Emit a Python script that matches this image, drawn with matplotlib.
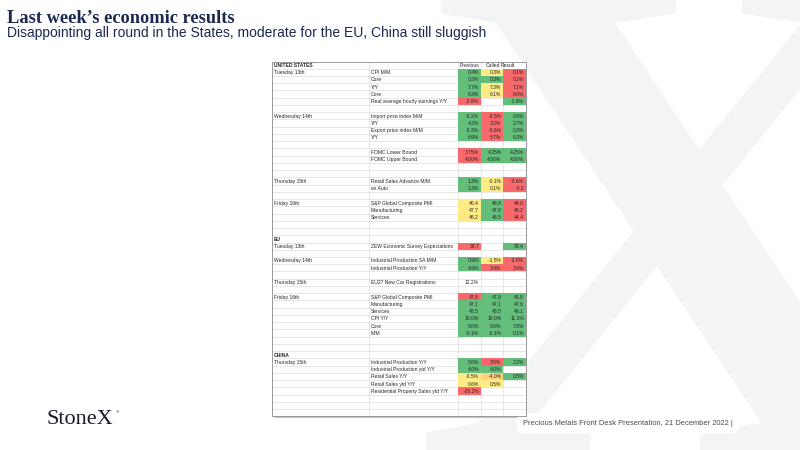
import matplotlib.pyplot as plt
from matplotlib.patches import Rectangle, PathPatch
from matplotlib.textpath import TextPath
from matplotlib.font_manager import FontProperties
from matplotlib.transforms import Affine2D

# ---------------------------------------------------------------------------
# table data (one entry per spreadsheet row)
# ---------------------------------------------------------------------------
section_names = ['UNITED STATES', 'EU', 'CHINA']

row_dates = ['UNITED STATES', 'Tuesday 13th', '', '', '', '', '',
             'Wednesday 14th', '', '', '', '', '', '', '', '',
             'Thursday 15th', '', '', 'Friday 16th', '', '', '', '',
             'EU', 'Tuesday 13th', '', 'Wednesday 14th', '', '',
             'Thursday 15th', '', 'Friday 16th', '', '', '', '', '', '', '',
             'CHINA', 'Thursday 15th', '', '', '', '', '', '', '']

row_labels = ['', 'CPI M/M', 'Core', 'Y/Y', 'Core', 'Real average hourly earnings Y/Y', '',
              'Import price index M/M', 'Y/Y', 'Export price index M/M', 'Y/Y', '',
              'FOMC Lower Bound', 'FOMC Upper Bound', '', '',
              'Retail Sales Advance M/M', 'ex Auto', '',
              'S&P Global Composite PMI', 'Manufacturing', 'Services', '', '',
              '', 'ZEW Economic Survey Expectations', '',
              'Industrial Production SA M/M', 'Industrial Production Y/Y', '',
              'EU27 New Car Registrations', '',
              'S&P Global Composite PMI', 'Manufacturing', 'Services', 'CPI Y/Y', 'Core', 'M/M', '', '',
              '', 'Industrial Production Y/Y', 'Industrial Production ytd Y/Y', 'Retail Sales Y/Y',
              'Retail Sales ytd Y/Y', 'Residential Property Sales ytd Y/Y', '', '', '']

prev_vals = ['Previous', '0.4%', '0.3%', '7.7%', '6.3%', '-2.8%', '',
             '-0.2%', '4.2%', '-0.3%', '6.9%', '',
             '3.75%', '4.00%', '', '',
             '1.3%', '1.3%', '',
             '46.4', '47.7', '46.2', '', '',
             '', '38.7', '',
             '0.9%', '4.9%', '',
             '12.2%', '',
             '47.8', '47.1', '48.5', '10.0%', '5.0%', '-0.1%', '', '',
             '', '5.0%', '4.0%', '-0.5%', '0.6%', '-28.2%', '', '', '']

called_vals = ['Called', '0.3%', '0.3%', '7.3%', '6.1%', '', '',
               '-0.5%', '3.2%', '-0.6%', '5.7%', '',
               '4.25%', '4.50%', '', '',
               '-0.1%', '0.1%', '',
               '46.8', '47.8', '46.5', '', '',
               '', '', '',
               '-1.5%', '3.4%', '',
               '', '',
               '47.9', '47.1', '48.5', '10.0%', '5.0%', '-0.1%', '', '',
               '', '3.5%', '4.0%', '-4.0%', '0.5%', '', '', '', '']

result_vals = ['Result', '0.1%', '0.2%', '7.1%', '6.0%', '-1.9%', '',
               '0.6%', '2.7%', '0.3%', '6.3%', '',
               '4.25%', '4.50%', '', '',
               '-0.6%', '-0.2', '',
               '44.6', '46.2', '44.4', '', '',
               '', '39.4', '',
               '-2.0%', '3.4%', '',
               '', '',
               '48.8', '47.8', '49.1', '11.1%', '7.8%', '0.1%', '', '',
               '', '2.2%', '', '0.5%', '', '', '', '', '']

# cell fills: g = better, r = worse, y / o = neutral, - = none
prev_fill = "-ggggr-gggg-rr--gg-yyy---r-gg---rggggg---ggyyr---"
called_fill = "-ygyy--rrrr-gg--yy-ggg-----yr---gggggg---rgoy----"
result_fill = "-rrrrg-gggg-gg--rr-rrr---g-rr---gggggg---g-g-----"

fill_colors = {'g': '#63be7b', 'r': '#f8696b', 'y': '#ffeb84', 'o': '#fdd17f'}

navy = '#1c2850'
cell_font = 'Liberation Sans'

fig = plt.figure(figsize=(8, 4.5), dpi=100)
ax = fig.add_axes([0, 0, 1, 1])
ax.set_xlim(0, 800)
ax.set_ylim(450, 0)
ax.axis('off')

# big watermark "X" in the background
tp = TextPath((0, 0), 'X', size=100, prop=FontProperties(family='Liberation Serif', weight='bold'))
v = tp.vertices
gx0, gx1 = v[:, 0].min(), v[:, 0].max()
gy0, gy1 = v[:, 1].min(), v[:, 1].max()
bx0, bx1, by0, by1 = 412, 935, -12, 458
tr = Affine2D().translate(-gx0, -gy1).scale((bx1 - bx0) / (gx1 - gx0), -(by1 - by0) / (gy1 - gy0)).translate(bx0, by0)
ax.add_patch(PathPatch(tr.transform_path(tp), fc='#f3f4f6', ec='none', zorder=0))

# titles
ax.text(7, 23.3, 'Last week\u2019s economic results', family='Liberation Serif', weight='bold',
        fontsize=13.2, color=navy, va='baseline')
ax.text(7, 37.3, 'Disappointing all round in the States, moderate for the EU, China still sluggish',
        family='Liberation Sans', fontsize=10.0, color=navy, va='baseline')

# ---------------------------------------------------------------------------
# the table
# ---------------------------------------------------------------------------
col_edges = [272, 369, 458, 480.5, 503, 525.5]
ty0 = 61.5
rh = 7.24
n = len(row_labels)
ty1 = ty0 + n * rh
tx0, tx1 = col_edges[0], col_edges[-1]

ax.add_patch(Rectangle((tx0 + 1.6, ty0 + 1.6), tx1 - tx0, ty1 - ty0, fc='#c4c4c4', ec='none', zorder=1))
ax.add_patch(Rectangle((tx0, ty0), tx1 - tx0, ty1 - ty0, fc='white', ec='none', zorder=2))

for i in range(n + 1):
    ax.plot([tx0, tx1], [ty0 + i * rh] * 2, color='#d9d9d9', lw=0.45, zorder=3)
for xe in col_edges:
    ax.plot([xe, xe], [ty0, ty1], color='#d9d9d9', lw=0.45, zorder=3)

for j, fills in enumerate([prev_fill, called_fill, result_fill]):
    for i, f in enumerate(fills):
        if f in fill_colors:
            ax.add_patch(Rectangle((col_edges[j + 2], ty0 + i * rh), col_edges[j + 3] - col_edges[j + 2], rh,
                                   fc=fill_colors[f], ec='none', zorder=4))

ax.add_patch(Rectangle((tx0, ty0), tx1 - tx0, ty1 - ty0, fc='none', ec='#8f8f8f', lw=0.6, zorder=6))

txt_kw = dict(family=cell_font, fontsize=3.65, color='#262626', va='center', zorder=7)
for i in range(n):
    yc = ty0 + (i + 0.55) * rh
    if row_dates[i]:
        ax.text(col_edges[0] + 2, yc, row_dates[i],
                weight='bold' if row_dates[i] in section_names else 'normal', ha='left', **txt_kw)
    if row_labels[i]:
        ax.text(col_edges[1] + 2, yc, row_labels[i], ha='left', **txt_kw)
    if i == 0:
        ax.text((col_edges[2] + col_edges[3]) / 2, yc, prev_vals[0], ha='center', **txt_kw)
        ax.text(col_edges[4] - 3, yc, called_vals[0], ha='right', **txt_kw)
        ax.text(col_edges[4] - 2.5, yc, result_vals[0], ha='left', **txt_kw)
        continue
    for j, vals in enumerate([prev_vals, called_vals, result_vals]):
        if vals[i]:
            ax.text(col_edges[j + 3] - 1.5, yc, vals[i], ha='right', **txt_kw)

# logo and footer
ax.text(47, 424.3, 'StoneX', family='Liberation Serif', fontsize=16, color='#1a1a2a', va='baseline')
ax.text(115.5, 413, '\u00ae', family='DejaVu Sans', fontsize=2.5, color='#1a1a2a', va='baseline')
ax.text(523, 425, 'Precious Metals Front Desk Presentation, 21 December 2022 |', family='Liberation Sans',
        fontsize=5.45, color='#4a4a4a', va='baseline',
        bbox=dict(boxstyle='round,pad=0.9,rounding_size=1.2', fc='white', ec='none'))

fig.savefig('out.png', dpi=100)
